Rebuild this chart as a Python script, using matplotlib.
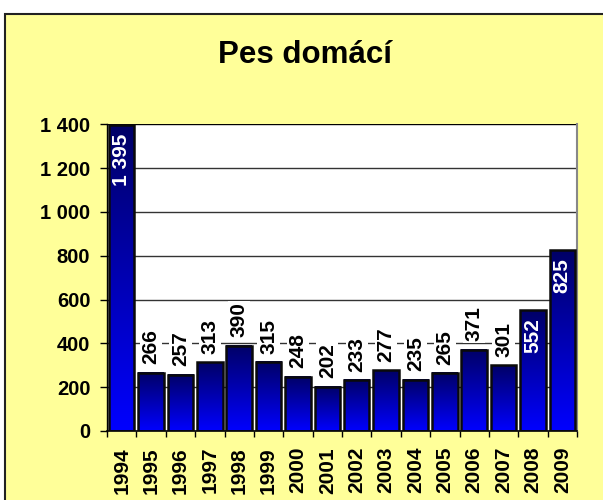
import numpy as np
import matplotlib
matplotlib.use("Agg")
import matplotlib.pyplot as plt
from matplotlib.colors import LinearSegmentedColormap
from matplotlib.patches import Rectangle
from matplotlib.ticker import FixedLocator, FuncFormatter

plt.rcParams['font.family'] = ['Liberation Sans', 'DejaVu Sans']
plt.rcParams['font.weight'] = 'bold'

years = ['1994', '1995', '1996', '1997', '1998', '1999', '2000', '2001',
         '2002', '2003', '2004', '2005', '2006', '2007', '2008', '2009']
counts = [1395, 266, 257, 313, 390, 315, 248, 202,
          233, 277, 235, 265, 371, 301, 552, 825]
y_ticks = [0, 200, 400, 600, 800, 1000, 1200, 1400]
title = 'Pes domácí'

W, H = 603, 500
fig = plt.figure(figsize=(W / 100, H / 100), dpi=100)
fig.patch.set_facecolor('white')

# yellow chart frame, behind the axes
fig.patches.append(Rectangle((5 / W, -0.05), 1.2, 1 - 14 / H + 0.05,
                             transform=fig.transFigure, facecolor='#ffff99',
                             edgecolor='#222222', linewidth=1.5, zorder=-5))

ax = fig.add_axes([107 / W, 1 - 431 / H, (577 - 107) / W, (431 - 124.3) / H])
ax.set_facecolor('white')

cmap = LinearSegmentedColormap.from_list('bar', ['#000066', '#0000ff'])
grad = np.linspace(1, 0, 256).reshape(-1, 1)
x = np.arange(len(years))
bw = 0.87
for xi, v in zip(x, counts):
    ax.imshow(grad, extent=(xi - bw / 2, xi + bw / 2, 0, v), origin='lower',
              aspect='auto', cmap=cmap, vmin=0, vmax=1, zorder=2,
              interpolation='bilinear')
ax.bar(x, counts, width=bw, facecolor='none', edgecolor='#0a0a0a',
       linewidth=1.8, zorder=3)

ax.set_xlim(-0.5, len(years) - 0.5)
ax.set_ylim(0, 1400)

# gridlines
for t in y_ticks[1:]:
    ax.axhline(t, color='#333333' if t < 1400 else 'black', linewidth=1,
               zorder=1)

# value labels: white inside tall bars, black on a white box above the others
for xi, v in zip(x, counts):
    txt = f'{v:,}'.replace(',', ' ')
    if v > 500:
        ax.annotate(txt, (xi, v), xytext=(0, -6), textcoords='offset points',
                    rotation=90, ha='center', va='top', color='white',
                    fontsize=15, fontweight='bold', zorder=5)
    else:
        ax.annotate(txt, (xi, v), xytext=(0, 6), textcoords='offset points',
                    rotation=90, ha='center', va='bottom', color='black',
                    fontsize=15, fontweight='bold', zorder=5,
                    bbox=dict(facecolor='white', edgecolor='none', pad=1.2))

# axes styling
ax.spines['top'].set_visible(False)
ax.spines['right'].set_color('#888888')
ax.spines['right'].set_linewidth(1.5)
ax.spines['left'].set_color('black')
ax.spines['bottom'].set_color('black')
ax.spines['left'].set_linewidth(1)
ax.spines['bottom'].set_linewidth(1.2)

ax.set_yticks(y_ticks)
ax.yaxis.set_major_formatter(FuncFormatter(lambda v, p: f'{int(v):,}'.replace(',', ' ')))
ax.tick_params(axis='y', length=5, width=1, pad=7, labelsize=14.5, color='black')

ax.set_xticks(x)
ax.set_xticklabels(years, rotation=90, fontsize=15, fontweight='bold')
ax.xaxis.set_minor_locator(FixedLocator(np.arange(-0.5, len(years), 1)))
ax.tick_params(axis='x', which='major', length=0, pad=11.5)
ax.tick_params(axis='x', which='minor', length=4.5, width=1, color='black')
for lbl in ax.get_yticklabels() + ax.get_xticklabels():
    lbl.set_fontweight('bold')

fig.text(305 / W, 1 - 63.3 / H, title, ha='center', va='baseline',
         fontsize=22.5, fontweight='bold')

fig.savefig('out.png', dpi=100)
